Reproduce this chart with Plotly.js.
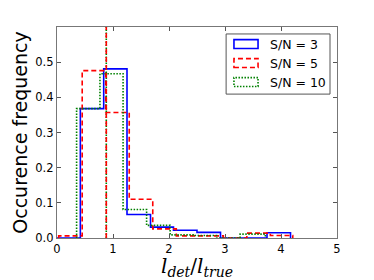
<!DOCTYPE html>
<html>
<head>
<meta charset="utf-8">
<script src="https://cdn.plot.ly/plotly-3.0.1.min.js"></script>
<style>html,body{margin:0;padding:0;background:#fff;}#chart{width:374px;height:280px;}</style>
</head>
<body>
<div id="chart"></div>
<script>
// Series names
const seriesNames = ["S/N = 3", "S/N = 5", "S/N = 10"];
// Histogram bin edges per series
const edgesSN3 = [0.00, 0.417, 0.834, 1.25, 1.67, 2.08, 2.50, 2.92, 3.34, 3.75, 4.17];
const edgesSN5 = [0.03, 0.45, 0.87, 1.29, 1.71, 2.13, 2.55, 2.97, 3.39, 3.81, 4.21];
const edgesSN10 = [0.35, 0.767, 1.18, 1.60, 2.02, 2.43, 2.85, 3.27, 3.72];
// Occurrence frequencies per bin
const freqSN3 = [0.0, 0.368, 0.481, 0.067, 0.031, 0.022, 0.016, 0.0, 0.0, 0.015];
const freqSN5 = [0.006, 0.476, 0.357, 0.110, 0.026, 0.006, 0.006, 0.0, 0.014, 0.007];
const freqSN10 = [0.368, 0.467, 0.081, 0.036, 0.009, 0.007, 0.0, 0.011];
// Vertical marker (true value line)
const markerX = 0.88;
const markerY = [0, 0.6];
// Tick values / labels
const xTicks = [0, 1, 2, 3, 4, 5];
const yTicks = [0.0, 0.1, 0.2, 0.3, 0.4, 0.5];
const yTickText = ["0.0", "0.1", "0.2", "0.3", "0.4", "0.5"];

function stepXY(edges, vals) {
  const x = [edges[0]], y = [0];
  for (let i = 0; i < vals.length; i++) { x.push(edges[i]); y.push(vals[i]); }
  x.push(edges[edges.length - 1]); y.push(0);
  return {x, y};
}

const colors = ["#0000ff", "#ff0000", "#008000"];
const dashes = ["solid", "5px,3px", "1.5px,1.5px"];
const allEdges = [edgesSN3, edgesSN5, edgesSN10];
const allFreq = [freqSN3, freqSN5, freqSN10];

const traces = [];
for (let k = 0; k < 3; k++) {
  const s = stepXY(allEdges[k], allFreq[k]);
  traces.push({
    type: "scatter", mode: "lines", x: s.x, y: s.y, name: seriesNames[k],
    line: {shape: "hv", color: colors[k], width: 1.6, dash: dashes[k]},
    showlegend: false, hoverinfo: "skip"
  });
}
traces.push({type: "scatter", mode: "lines", x: [markerX, markerX], y: markerY,
  line: {color: "#008000", width: 1.6, dash: "1.5px,1.5px"}, showlegend: false, hoverinfo: "skip"});
traces.push({type: "scatter", mode: "lines", x: [markerX, markerX], y: markerY,
  line: {color: "#ff0000", width: 1.6, dash: "5px,3px"}, showlegend: false, hoverinfo: "skip"});

// Manual legend with rectangle patches (matplotlib style)
const shapes = [];
const annotations = [];
const rowY = [0.919, 0.829, 0.739];
shapes.push({type: "rect", xref: "paper", yref: "paper", x0: 0.604, x1: 0.975, y0: 0.682, y1: 0.967,
  line: {color: "#555", width: 1}, fillcolor: "#fff", layer: "above"});
for (let k = 0; k < 3; k++) {
  shapes.push({type: "rect", xref: "paper", yref: "paper", x0: 0.632, x1: 0.718,
    y0: rowY[k] - 0.021, y1: rowY[k] + 0.021,
    line: {color: colors[k], width: 1.6, dash: dashes[k]}, fillcolor: "rgba(0,0,0,0)", layer: "above"});
  annotations.push({xref: "paper", yref: "paper", x: 0.752, y: rowY[k], xanchor: "left", yanchor: "middle",
    text: seriesNames[k], showarrow: false, font: {family: "DejaVu Sans", size: 12.5, color: "#000"}});
}

const layout = {
  width: 374, height: 280,
  margin: {l: 57, r: 37, t: 27, b: 42, pad: 0},
  paper_bgcolor: "#fff", plot_bgcolor: "#fff",
  font: {family: "DejaVu Sans", color: "#000"},
  showlegend: false,
  xaxis: {
    range: [0, 5], tickvals: xTicks, ticktext: xTicks.map(String),
    ticks: "inside", ticklen: 4, tickcolor: "#555", tickwidth: 1,
    showline: true, linecolor: "#777", linewidth: 1.2, mirror: "allticks",
    showgrid: false, zeroline: false, tickfont: {size: 11.5},
    title: {text: "<i>l</i><sub><i>det</i></sub>/<i>l</i><sub><i>true</i></sub>",
      font: {size: 20, family: "DejaVu Serif"}, standoff: 1},
    automargin: false
  },
  yaxis: {
    range: [0, 0.6], tickvals: yTicks, ticktext: yTickText,
    ticks: "inside", ticklen: 4, tickcolor: "#555", tickwidth: 1,
    showline: true, linecolor: "#777", linewidth: 1.2, mirror: "allticks",
    showgrid: false, zeroline: false, tickfont: {size: 11.5},
    title: {text: "Occurence frequency", font: {size: 19}, standoff: 2},
    automargin: false
  },
  shapes: shapes,
  annotations: annotations
};

Plotly.newPlot("chart", traces, layout, {staticPlot: true, displayModeBar: false});
</script>
</body>
</html>
